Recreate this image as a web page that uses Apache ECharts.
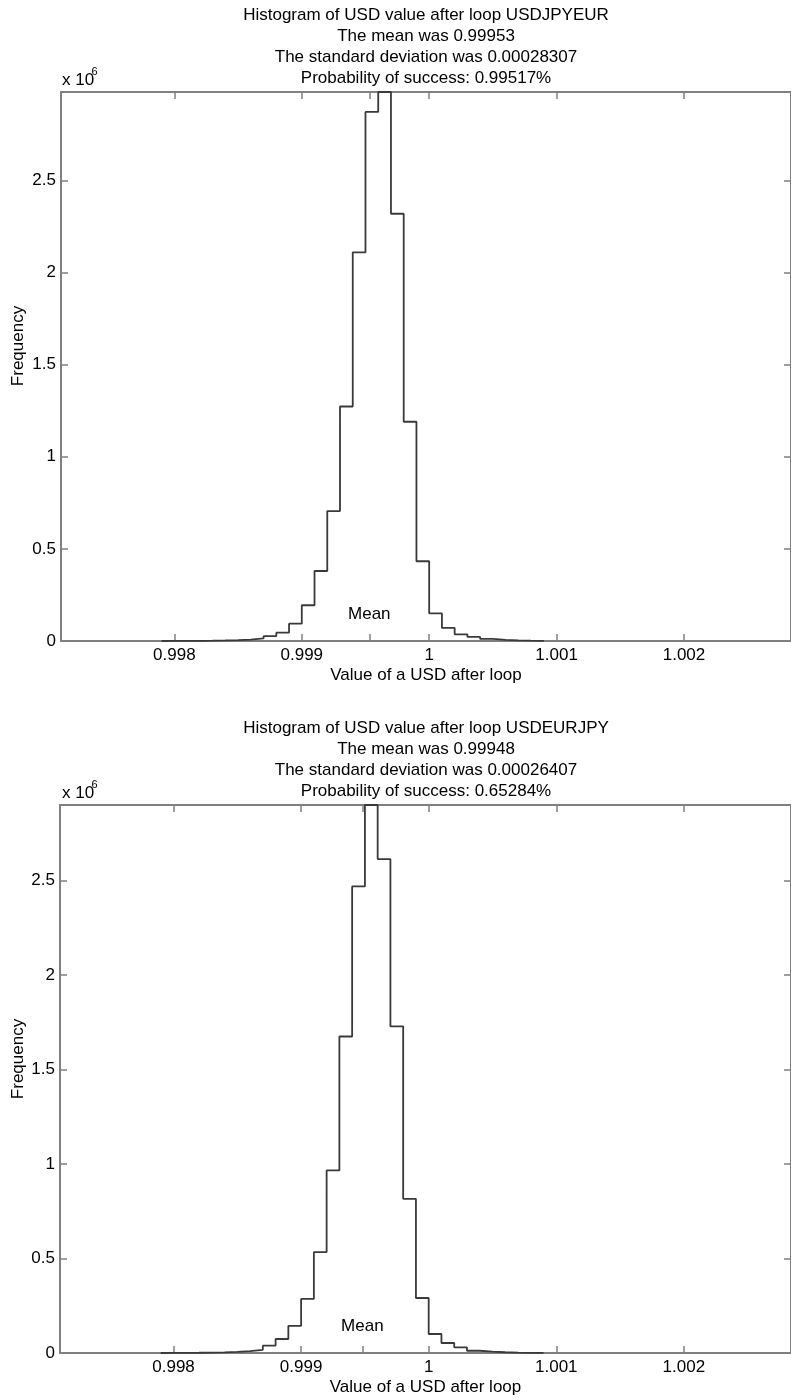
<!DOCTYPE html>
<html><head><meta charset="utf-8">
<script src="https://cdn.jsdelivr.net/npm/echarts@6/dist/echarts.min.js"></script>
<style>html,body{margin:0;padding:0;background:#fff}#c{width:791px;height:1398px}</style>
</head><body><div id="c"></div>
<script>
// ---------- data ----------
const binEdges = [0.9979, 0.9980, 0.9981, 0.9982, 0.9983, 0.9984, 0.9985, 0.9986, 0.9987, 0.9988,
  0.9989, 0.9990, 0.9991, 0.9992, 0.9993, 0.9994, 0.9995, 0.9996, 0.9997, 0.9998,
  0.9999, 1.0000, 1.0001, 1.0002, 1.0003, 1.0004, 1.0005, 1.0006, 1.0007, 1.0008, 1.0009];
// frequencies in units of 10^6
const freqUSDJPYEUR = [0.0003, 0.0006, 0.001, 0.0018, 0.003, 0.005, 0.008, 0.014, 0.026, 0.045,
  0.094, 0.194, 0.38, 0.705, 1.273, 2.11, 2.872, 2.98, 2.319, 1.19,
  0.433, 0.15, 0.071, 0.036, 0.022, 0.011, 0.006, 0.003, 0.0015, 0.0007];
const freqUSDEURJPY = [0.0005, 0.0008, 0.0013, 0.002, 0.0035, 0.006, 0.010, 0.017, 0.039, 0.074,
  0.144, 0.286, 0.534, 0.966, 1.675, 2.469, 2.9, 2.614, 1.728, 0.816,
  0.291, 0.1005, 0.053, 0.030, 0.012, 0.007, 0.004, 0.002, 0.001, 0.0005];
const meanUSDJPYEUR = 0.99953;
const meanUSDEURJPY = 0.99948;
const titleUSDJPYEUR = ['Histogram of USD value after loop USDJPYEUR', 'The mean was 0.99953',
  'The standard deviation was 0.00028307', 'Probability of success: 0.99517%'];
const titleUSDEURJPY = ['Histogram of USD value after loop USDEURJPY', 'The mean was 0.99948',
  'The standard deviation was 0.00026407', 'Probability of success: 0.65284%'];
const xTickLabels = [0.998, 0.999, 1, 1.001, 1.002];
const yTickLabels = [0, 0.5, 1, 1.5, 2, 2.5];
const xRange = [0.99711, 1.00284];
const xTitle = 'Value of a USD after loop';
const yTitle = 'Frequency';
const meanLabel = 'Mean';

// ---------- layout ----------
const FONT = '"Liberation Sans", Arial, Helvetica, sans-serif';
const FS = 17;
const AX = '#808080';
const panels = [
  {freq: freqUSDJPYEUR, mean: meanUSDJPYEUR, title: titleUSDJPYEUR, left: 61, top: 92, width: 730, height: 549, dy: 0},
  {freq: freqUSDEURJPY, mean: meanUSDEURJPY, title: titleUSDEURJPY, left: 60, top: 805, width: 731, height: 548, dy: 713}
];

function stepData(freq) {
  const d = [[binEdges[0], 0]];
  for (let i = 0; i < freq.length; i++) d.push([binEdges[i], freq[i]]);
  d.push([binEdges[freq.length], 0]);
  return d;
}

const grid = [], xAxis = [], yAxis = [], series = [], graphic = [];
panels.forEach((p, k) => {
  grid.push({left: p.left, top: p.top, width: p.width, height: p.height, containLabel: false});
  const ymax = Math.max.apply(null, p.freq);
  const xTicks = [0.998, 0.999, p.mean, 1, 1.001, 1.002];
  const common = {
    type: 'value', gridIndex: k, min: xRange[0], max: xRange[1],
    axisLine: {show: true, onZero: false, lineStyle: {color: AX, width: 2}},
    axisTick: {show: true, inside: true, length: 7, customValues: xTicks, lineStyle: {color: AX, width: 1.5}},
    splitLine: {show: false}
  };
  xAxis.push(Object.assign({}, common, {
    position: 'bottom',
    axisLabel: {show: true, customValues: xTickLabels, margin: 6, color: '#000', fontSize: FS, fontFamily: FONT,
      formatter: v => String(+v.toFixed(3))},
    name: xTitle, nameLocation: 'middle', nameGap: 26,
    nameTextStyle: {color: '#000', fontSize: FS, fontFamily: FONT}
  }));
  xAxis.push(Object.assign({}, common, {position: 'top', axisLabel: {show: false}}));
  const ycommon = {
    type: 'value', gridIndex: k, min: 0, max: ymax, interval: 0.5,
    axisLine: {show: true, onZero: false, lineStyle: {color: AX, width: 2}},
    axisTick: {show: true, inside: true, length: 7, customValues: yTickLabels, lineStyle: {color: AX, width: 1.5}},
    splitLine: {show: false}
  };
  yAxis.push(Object.assign({}, ycommon, {
    position: 'left',
    axisLabel: {show: true, customValues: yTickLabels, margin: 5, color: '#000', fontSize: FS, fontFamily: FONT,
      formatter: v => String(v)}
  }));
  yAxis.push(Object.assign({}, ycommon, {position: 'right', axisLabel: {show: false}}));

  series.push({
    type: 'line', xAxisIndex: 2 * k, yAxisIndex: 2 * k, step: 'end',
    data: stepData(p.freq), showSymbol: false, symbol: 'none', animation: false,
    lineStyle: {color: '#3a3a3a', width: 1.8}, clip: true,
    markPoint: {
      symbol: 'circle', symbolSize: 0, animation: false,
      label: {show: true, formatter: meanLabel, position: 'inside', offset: [0, -27],
        color: '#000', fontSize: FS, fontFamily: FONT},
      data: [{coord: [p.mean, 0]}]
    }
  });

  // titles
  p.title.forEach((t, i) => {
    graphic.push({type: 'text', x: 426, y: 15 + p.dy + i * 21.1,
      style: {text: t, align: 'center', verticalAlign: 'middle', fill: '#000', font: FS + 'px ' + FONT}});
  });
  // exponent label
  graphic.push({type: 'text', x: 62, y: 80 + p.dy,
    style: {text: 'x 10', align: 'left', verticalAlign: 'middle', fill: '#000', font: FS + 'px ' + FONT}});
  graphic.push({type: 'text', x: 91.5, y: 72 + p.dy,
    style: {text: '6', align: 'left', verticalAlign: 'middle', fill: '#000', font: '11px ' + FONT}});
  // y-axis title
  graphic.push({type: 'text', x: 18, y: 346 + p.dy, rotation: Math.PI / 2,
    style: {text: yTitle, align: 'center', verticalAlign: 'middle', fill: '#000', font: FS + 'px ' + FONT}});
});

const chart = echarts.init(document.getElementById('c'), null, {renderer: 'canvas'});
chart.setOption({animation: false, backgroundColor: '#fff', grid, xAxis, yAxis, series, graphic});
</script></body></html>
